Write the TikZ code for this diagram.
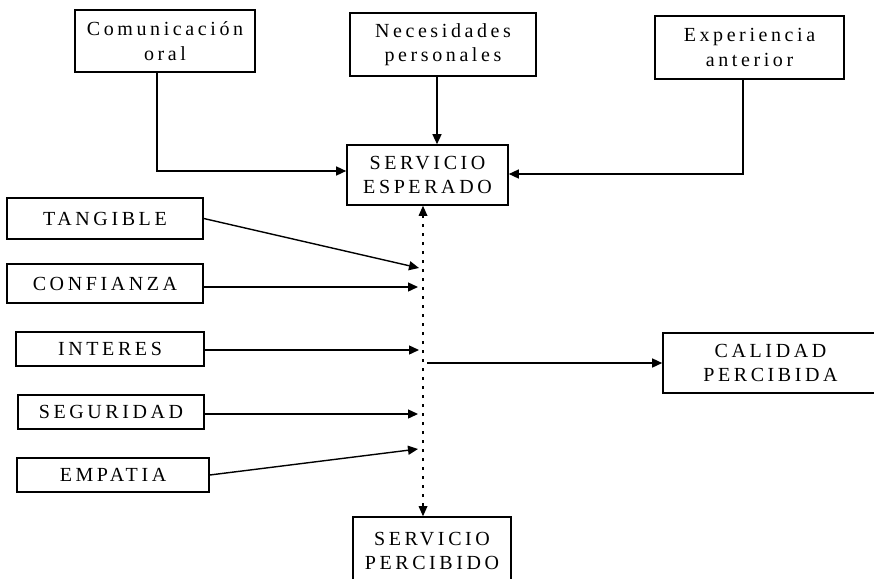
\documentclass[tikz,border=0pt]{standalone}
\usepackage{fontspec}
\setmainfont{Liberation Serif}[LetterSpace=18]
\usetikzlibrary{arrows.meta}
\begin{document}
\begin{tikzpicture}[x=1pt,y=-1pt,
  box/.style={draw,line width=1.6pt,align=center,inner sep=0pt,
    font=\fontsize{20}{24.5}\selectfont},
  arr/.style={line width=1.4pt,-{Triangle[length=10pt,width=9pt]}},
  dotline/.style={line width=2.8pt,dash pattern=on 2.8pt off 6.2pt,
    {Triangle[length=10pt,width=9pt,line width=0pt]}-{Triangle[length=10pt,width=9pt,line width=0pt]}}]
\clip (0,0) rectangle (874,578);
\node[box,minimum width=180pt,minimum height=62pt] (com) at (165,41) {Comunicación\\oral};
\node[box,minimum width=186pt,minimum height=63pt] (nec) at (443,44.5) {Necesidades\\personales};
\node[box,minimum width=189pt,minimum height=63pt] (exp) at (749.5,47.5) {Experiencia\\anterior};
\node[box,minimum width=161pt,minimum height=60pt] (esp) at (427.5,175) {SERVICIO\\ESPERADO};
\node[box,minimum width=196pt,minimum height=41pt] (tan) at (105,218.5) {TANGIBLE};
\node[box,minimum width=196pt,minimum height=39pt] (con) at (105,283.5) {CONFIANZA};
\node[box,minimum width=188pt,minimum height=34pt] (int) at (110,349) {INTERES};
\node[box,minimum width=186pt,minimum height=34pt] (seg) at (111,412) {SEGURIDAD};
\node[box,minimum width=192pt,minimum height=34pt] (emp) at (113,475) {EMPATIA};
\node[box,minimum width=215pt,minimum height=60pt] (cal) at (770.5,363) {CALIDAD\\PERCIBIDA};
\node[box,minimum width=158pt,minimum height=68pt] (per) at (432,551) {SERVICIO\\PERCIBIDO};
\coordinate (ax) at (423,0);
\coordinate (c1) at (157,171);
\coordinate (n1) at (437,0);
\coordinate (e1) at (743,174);
\coordinate (ta) at (419,268);
\coordinate (ca) at (418,287);
\coordinate (ia) at (419,350);
\coordinate (sa) at (418,414);
\coordinate (ea) at (418,449);
\coordinate (qa) at (427,0);
\draw[arr] (com.south -| c1) |- (esp.west |- c1);
\draw[arr] (nec.south -| n1) -- (esp.north -| n1);
\draw[arr] (exp.south -| e1) |- (esp.east |- e1);
\draw[dotline] (ax |- per.north) -- (ax |- esp.south);
\draw[arr] (tan.east) -- (ta);
\draw[arr] (con.east |- ca) -- (ca);
\draw[arr] (int.east |- ia) -- (ia);
\draw[arr] (seg.east |- sa) -- (sa);
\draw[arr] (emp.east) -- (ea);
\draw[arr] (qa |- cal.west) -- (cal.west);
\end{tikzpicture}
\end{document}
